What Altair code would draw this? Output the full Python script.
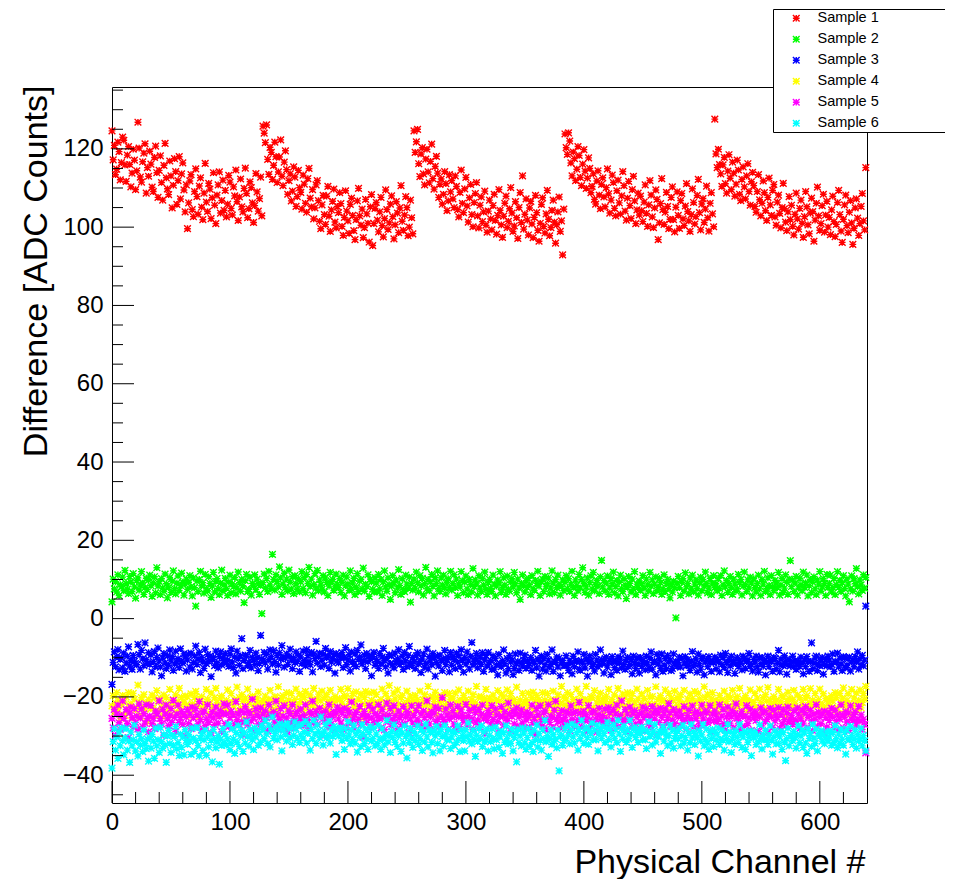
import altair as alt
import pandas as pd

SAMPLES = ["Sample 1", "Sample 2", "Sample 3", "Sample 4", "Sample 5", "Sample 6"]
COLORS = ["#ff0000", "#00ff00", "#0000ff", "#ffff00", "#ff00ff", "#00ffff"]

X_MAJOR = [0, 100, 200, 300, 400, 500, 600]
X_MINOR = [20, 40, 60, 80, 120, 140, 160, 180, 220, 240, 260, 280, 320, 340, 360, 380,
           420, 440, 460, 480, 520, 540, 560, 580, 620]
Y_MAJOR = [-40, -20, 0, 20, 40, 60, 80, 100, 120]
Y_MINOR = [-45, -35, -30, -25, -15, -10, -5, 5, 10, 15, 25, 30, 35, 45, 50, 55, 65, 70, 75,
           85, 90, 95, 105, 110, 115, 125, 130, 135]

SAMPLE1 = [
    124.6,117.2,120.9,113.4,114.8,121.7,119.3,112.1,116.5,123.0,122.2,115.9,111.7,118.4,120.6,116.0,110.3,113.8,119.9,117.1,109.6,114.4,126.8,120.2,112.8,111.5,116.7,118.9,121.3,108.7,115.2,113.0,
    119.4,116.1,110.2,109.1,117.8,120.7,113.9,107.6,114.5,118.2,111.4,106.9,115.8,121.4,112.6,109.8,108.3,116.9,113.1,104.9,110.7,117.5,114.2,105.8,111.9,118.0,107.2,113.6,116.4,109.5,103.9,110.8,
    99.6,106.2,111.8,113.4,104.5,102.7,109.1,114.9,107.8,103.3,110.5,112.6,105.1,101.9,108.7,116.3,106.4,104.0,111.2,109.7,102.2,107.5,113.9,105.6,100.9,108.2,110.8,114.1,103.6,106.8,112.0,104.3,
    109.4,102.6,105.9,113.2,111.5,104.8,103.1,110.3,108.0,114.6,106.5,101.7,107.7,112.3,105.2,103.9,109.9,115.1,108.6,102.4,104.7,111.6,110.1,106.2,101.2,105.5,113.7,109.0,104.1,107.3,112.8,102.9,
    125.8,124.0,121.6,126.1,117.3,113.5,120.4,119.1,112.2,115.8,121.7,118.0,111.4,114.1,117.9,122.3,113.0,110.6,116.6,119.5,114.7,108.4,111.9,113.6,106.7,109.2,115.4,112.8,105.3,107.8,114.5,110.1,
    108.9,104.6,113.3,111.0,106.1,103.8,112.4,115.0,107.4,105.2,109.6,102.1,104.9,110.8,111.9,106.8,101.5,99.6,105.7,108.1,103.2,100.7,107.9,110.4,102.8,98.9,104.4,106.6,109.7,101.3,99.8,105.3,
    103.7,108.8,106.0,100.2,97.9,102.5,109.3,104.1,101.6,98.4,105.8,107.4,103.0,99.1,96.8,101.9,106.7,109.9,102.9,100.5,104.6,97.3,99.9,107.1,103.4,101.0,96.2,105.2,108.3,95.3,100.9,104.8,
    106.3,101.8,98.8,103.9,107.6,100.4,97.5,102.2,109.5,104.5,99.4,101.1,105.9,108.0,102.7,97.0,100.6,106.5,103.6,98.6,104.9,110.6,101.5,99.2,103.1,107.8,105.0,97.8,100.0,106.9,102.4,98.3,
    124.6,119.1,121.8,125.0,116.2,112.9,118.7,120.3,113.6,110.8,117.4,119.9,114.1,111.3,116.8,121.2,112.4,109.7,115.5,118.1,113.8,107.6,110.9,112.3,105.9,108.4,114.2,111.1,104.2,106.7,113.4,109.0,
    111.9,107.2,105.0,113.1,110.4,104.5,102.6,108.9,114.6,106.1,103.7,109.8,112.7,105.4,101.3,107.5,110.9,103.2,100.1,106.3,108.6,111.4,102.9,99.8,105.6,107.7,101.4,103.9,109.2,100.5,98.7,104.1,
    106.9,102.1,99.3,105.5,108.4,101.7,98.2,103.0,109.6,104.3,100.6,97.4,102.8,106.1,107.9,99.9,101.5,104.7,110.1,103.6,98.9,100.3,106.5,102.4,97.1,105.0,108.8,101.2,113.1,99.5,103.3,107.2,
    101.8,98.0,104.9,106.6,100.8,97.3,102.5,108.1,103.7,99.2,96.4,101.0,105.8,107.5,100.2,98.5,103.4,109.4,102.0,97.8,99.9,104.3,106.9,101.3,95.9,100.6,103.9,107.7,98.9,101.6,92.9,104.6,
    123.8,120.3,118.6,124.1,122.0,116.4,113.1,119.2,117.5,111.9,114.8,120.6,118.3,112.7,110.6,116.1,119.8,114.3,109.9,112.5,117.7,115.0,108.8,110.4,113.6,107.1,105.9,111.8,114.4,108.2,104.7,110.9,
    112.6,107.7,105.2,110.1,114.9,108.5,103.6,106.9,113.3,111.4,104.8,102.9,109.3,112.0,106.2,103.3,108.0,114.2,110.6,104.1,101.8,107.4,111.7,105.5,102.2,109.6,113.0,106.7,100.9,104.4,108.7,103.1,
    107.9,104.2,101.4,106.4,110.8,103.5,100.2,105.7,111.9,108.2,102.6,99.9,104.9,109.5,107.1,96.8,101.1,106.0,112.4,104.5,100.7,103.8,108.9,105.3,99.6,102.0,107.6,110.3,101.9,98.8,105.1,109.0,
    103.0,99.7,106.8,108.6,102.1,100.4,105.4,111.1,104.0,101.6,98.9,103.2,109.8,106.3,100.8,102.7,108.1,112.2,103.7,99.3,105.9,107.3,101.2,104.6,110.5,102.4,99.0,106.1,108.8,103.4,100.1,127.6,
    118.7,115.2,119.9,116.0,113.6,110.4,115.9,117.8,111.1,108.7,114.3,118.5,112.5,109.6,116.6,113.8,107.9,111.0,117.1,114.6,108.4,106.8,112.2,115.4,110.3,107.2,113.1,116.2,109.1,105.6,111.6,114.0,
    110.6,105.3,103.8,109.1,113.4,107.0,102.9,106.1,111.8,108.8,104.2,101.7,107.6,112.5,105.7,103.0,109.4,110.9,102.6,100.5,106.4,108.2,103.5,99.8,105.0,111.2,104.7,101.3,99.1,103.9,107.8,101.9,
    105.6,100.2,98.0,103.3,108.7,102.1,99.5,104.8,106.9,101.0,97.4,102.7,109.1,105.2,100.6,98.3,103.6,107.4,104.0,96.4,101.8,106.1,110.2,102.9,99.2,100.9,105.5,108.4,98.7,103.1,106.6,100.0,
    102.5,98.1,104.4,107.9,101.4,97.6,100.7,106.3,109.4,103.2,99.0,96.1,102.0,105.7,108.2,100.4,98.6,103.8,106.8,101.1,95.6,99.7,104.9,107.2,102.3,97.9,100.9,105.3,108.6,101.6,99.3,115.2,
]

SAMPLE2 = [
    4.3,10.1,7.6,9.4,6.8,11.2,5.9,8.7,8.2,10.6,7.1,12.3,9.0,7.5,6.4,10.8,9.3,6.9,11.5,8.1,5.2,9.7,10.4,7.3,8.6,12.0,9.1,6.2,7.9,10.3,7.4,9.8,
    11.1,8.4,5.7,9.2,10.7,6.6,13.0,8.3,9.5,6.1,10.2,7.8,7.0,11.4,8.9,5.3,8.0,10.5,6.7,9.6,12.2,7.7,6.3,9.1,10.9,7.2,8.5,11.6,9.3,6.0,8.8,10.1,
    7.5,9.3,11.0,8.1,5.8,10.4,7.9,3.2,9.6,6.9,10.0,12.1,8.4,9.2,6.5,11.3,7.6,7.1,10.7,9.0,5.4,8.3,11.8,6.8,9.5,10.2,7.7,6.1,9.1,12.4,7.0,8.6,
    10.3,7.7,5.9,9.4,11.1,6.6,8.9,8.2,10.5,6.3,7.8,11.9,9.2,7.0,10.0,8.4,4.1,9.7,11.3,6.9,7.5,10.6,6.0,9.0,8.3,11.2,7.4,10.1,8.8,6.2,8.5,1.3,
    9.2,11.4,7.8,10.3,6.9,12.1,8.6,7.7,16.4,10.0,7.3,11.2,9.5,8.1,13.2,10.4,6.2,8.8,11.6,7.9,10.1,7.0,12.4,9.3,7.6,10.7,6.4,11.0,8.9,7.5,10.2,6.8,
    9.4,12.0,7.7,10.5,6.6,11.3,9.0,13.1,8.2,10.1,6.0,8.7,11.5,7.8,12.3,7.1,9.9,8.6,7.5,11.0,6.8,10.4,9.2,5.9,8.3,11.8,9.5,10.0,7.2,8.1,11.4,8.8,
    7.9,10.2,6.7,9.3,11.1,5.8,8.4,10.6,8.9,7.2,12.2,7.6,9.1,10.3,6.1,8.0,11.5,6.9,9.6,10.0,7.7,12.9,7.0,8.8,8.2,11.2,5.7,10.1,9.4,7.5,6.8,10.5,
    9.1,6.8,11.3,7.6,10.0,5.9,9.4,12.2,8.1,7.0,10.4,8.7,4.9,8.3,11.0,9.2,6.6,9.9,7.8,12.5,8.5,6.2,10.2,7.4,6.9,11.1,8.8,7.7,10.6,4.2,9.0,7.3,
    10.1,7.8,11.9,9.2,6.8,11.0,8.4,10.3,6.0,8.9,13.1,7.6,10.0,7.1,9.4,11.3,8.2,5.8,10.5,9.0,12.2,7.7,6.9,10.4,8.6,11.1,7.9,6.3,9.3,10.2,8.0,12.1,
    7.3,9.0,11.2,7.9,10.1,5.9,8.8,8.1,12.0,9.7,6.6,9.3,10.9,7.6,6.1,10.0,8.7,6.8,12.8,8.2,9.9,9.1,6.0,11.0,7.8,6.9,10.3,8.6,11.9,7.5,6.2,9.2,
    10.0,7.7,6.9,11.1,8.8,5.8,8.3,9.9,9.1,12.0,6.7,7.9,10.4,8.6,6.2,10.9,7.5,7.0,9.3,10.2,8.1,11.8,8.9,6.6,10.1,7.8,4.9,9.0,11.2,8.4,6.8,9.7,
    8.0,10.3,8.7,6.1,11.0,7.6,7.2,9.8,9.0,12.1,8.3,5.9,9.4,10.1,6.9,10.8,8.1,8.9,10.4,6.3,7.8,12.2,9.1,6.6,10.0,7.9,11.1,8.6,6.0,8.2,9.9,7.1,
    9.3,11.0,7.7,10.2,6.9,8.8,12.1,8.0,5.9,9.9,8.5,7.1,11.3,7.8,10.0,13.0,8.9,6.7,8.1,10.4,6.0,9.2,10.9,7.6,11.8,7.0,8.7,9.8,8.3,6.4,10.7,14.9,
    8.1,9.7,7.0,9.1,10.9,6.2,7.8,10.3,8.9,11.9,6.6,8.2,9.8,5.8,9.3,11.1,7.7,6.9,10.2,8.6,5.1,8.0,10.8,9.0,6.8,10.1,7.5,12.0,6.1,8.8,7.9,9.6,
    7.2,8.9,11.0,7.8,5.9,10.1,8.6,7.0,11.8,8.3,9.9,6.4,8.8,10.7,7.1,8.0,10.3,9.2,6.2,7.6,11.2,6.9,9.0,10.0,7.7,5.3,8.7,6.8,9.6,7.9,0.2,9.1,
    10.8,7.9,5.9,9.3,10.2,7.0,11.7,8.1,9.0,6.3,10.4,7.6,11.1,6.8,8.8,9.9,7.7,6.0,9.2,10.6,7.1,10.0,8.3,11.9,8.9,6.6,7.8,10.3,6.1,9.1,11.0,8.0,
    8.9,7.1,10.3,7.7,11.0,5.9,8.6,12.2,8.1,9.8,6.7,9.0,10.8,7.9,6.2,10.1,8.8,7.0,7.6,11.3,9.2,10.0,6.0,8.3,11.9,8.7,6.9,9.9,7.8,10.6,9.1,5.8,
    10.2,7.9,6.8,9.0,11.1,7.6,5.9,10.0,8.8,12.1,6.9,7.7,10.4,8.5,6.1,11.0,8.2,7.1,9.8,9.1,7.9,11.8,6.0,8.6,10.3,6.7,7.8,11.2,9.3,6.2,10.1,14.8,
    8.2,9.9,6.9,9.1,10.8,6.0,7.8,10.3,8.7,7.1,11.9,8.0,9.2,11.1,5.8,8.4,10.0,6.7,9.3,10.7,7.6,6.1,9.9,8.8,12.0,7.0,8.1,10.2,9.0,5.9,11.3,7.9,
    9.0,11.1,6.8,7.9,10.3,6.1,8.7,12.0,8.0,9.8,6.9,9.2,11.0,7.7,5.8,10.1,8.8,4.3,7.6,10.9,7.0,10.2,8.9,12.8,8.1,6.3,9.9,8.6,7.2,11.2,7.8,10.5,
]

SAMPLE3 = [
    -16.8,-11.2,-8.5,-12.3,-9.7,-7.9,-13.1,-10.4,-10.0,-12.6,-8.8,-13.5,-11.3,-9.6,-7.2,-12.1,-10.7,-13.0,-9.4,-10.9,-11.5,-11.8,-6.6,-9.2,-12.9,-8.1,-10.3,-12.0,-6.2,-10.5,-11.4,-8.7,
    -11.7,-9.3,-13.6,-11.0,-8.4,-12.2,-9.9,-7.5,-10.8,-12.4,-14.6,-10.1,-8.9,-11.3,-12.8,-9.5,-11.9,-8.0,-10.6,-9.7,-13.2,-11.6,-8.3,-11.1,-10.2,-12.5,-7.7,-10.9,-11.4,-9.0,-9.8,-13.4,
    -10.6,-9.1,-12.4,-8.8,-12.9,-11.2,-9.5,-7.0,-11.7,-10.3,-8.6,-13.8,-10.0,-11.1,-12.7,-7.8,-11.5,-9.2,-10.9,-9.6,-14.8,-10.4,-9.9,-12.0,-8.3,-11.3,-12.6,-9.7,-8.5,-11.8,-10.1,-10.7,
    -8.9,-11.4,-10.6,-12.2,-9.0,-7.7,-11.1,-12.5,-9.8,-13.9,-8.3,-10.2,-11.9,-9.5,-5.1,-12.8,-10.7,-9.3,-9.6,-12.0,-11.2,-8.1,-12.6,-9.9,-10.4,-11.7,-8.8,-10.0,-13.3,-11.5,-4.3,-10.2,
    -10.8,-8.6,-11.3,-9.1,-12.9,-10.5,-8.0,-9.7,-11.6,-8.2,-11.0,-13.7,-9.4,-11.9,-8.7,-10.3,-6.9,-9.9,-12.4,-10.1,-9.0,-11.7,-9.6,-7.8,-10.6,-12.8,-10.0,-11.2,-8.5,-10.9,-9.3,-13.5,
    -9.8,-11.5,-8.3,-10.7,-12.1,-7.9,-9.4,-10.9,-11.8,-8.6,-13.6,-9.0,-10.2,-5.8,-11.4,-9.7,-8.8,-12.3,-10.6,-9.1,-11.9,-7.6,-10.0,-9.5,-12.7,-8.4,-11.1,-10.3,-9.2,-13.9,-8.9,-10.8,
    -11.3,-9.6,-10.1,-8.7,-12.5,-9.9,-7.4,-11.8,-10.6,-9.2,-13.4,-8.5,-10.9,-11.7,-9.0,-12.2,-8.1,-10.4,-9.8,-6.7,-11.6,-10.7,-9.3,-12.8,-8.9,-11.0,-9.5,-10.2,-14.6,-9.7,-8.6,-11.9,
    -10.4,-11.0,-12.7,-8.9,-11.5,-9.8,-7.6,-10.7,-12.3,-10.1,-13.9,-9.2,-11.4,-9.5,-11.8,-12.6,-8.8,-10.9,-10.3,-7.9,-11.7,-11.1,-9.6,-13.0,-8.6,-10.8,-12.2,-9.4,-7.1,-11.3,-12.0,-9.9,
    -11.1,-12.8,-9.5,-8.7,-11.6,-10.9,-13.8,-10.3,-9.0,-12.4,-11.4,-7.8,-12.9,-9.7,-10.6,-11.8,-8.9,-10.0,-14.7,-11.2,-9.6,-12.1,-9.3,-10.8,-13.3,-10.2,-8.1,-11.7,-10.5,-9.9,-13.6,-8.6,
    -11.9,-9.7,-10.4,-12.8,-8.8,-11.1,-9.5,-12.3,-7.9,-10.7,-13.7,-9.9,-11.6,-8.5,-10.8,-12.9,-9.6,-6.1,-11.8,-10.9,-10.2,-8.9,-12.6,-11.0,-9.8,-11.7,-8.7,-13.5,-10.6,-9.4,-12.1,-8.6,
    -11.3,-10.7,-13.0,-9.5,-12.9,-10.2,-11.8,-14.4,-9.1,-11.6,-12.3,-10.7,-8.0,-11.5,-13.9,-10.2,-12.8,-9.4,-11.1,-10.6,-14.3,-12.7,-9.0,-11.5,-10.9,-13.2,-8.8,-11.4,-12.1,-10.6,-9.3,-12.7,
    -10.7,-12.0,-11.5,-9.9,-13.2,-10.8,-11.4,-8.1,-12.6,-10.3,-14.7,-11.0,-9.5,-12.9,-10.2,-11.8,-13.4,-9.1,-10.6,-12.3,-11.7,-8.0,-13.5,-10.9,-11.2,-9.8,-12.4,-10.1,-14.6,-11.3,-10.7,-12.0,
    -12.0,-9.5,-11.9,-13.2,-10.8,-11.4,-14.1,-9.6,-12.3,-10.7,-11.0,-8.5,-12.9,-13.2,-10.8,-11.4,-9.1,-12.6,-10.3,-14.7,-11.0,-9.5,-10.9,-12.2,-11.8,-13.4,-9.1,-10.6,-12.3,-11.7,-8.0,-10.5,
    -11.5,-13.9,-10.2,-9.8,-12.4,-11.1,-10.6,-14.3,-9.7,-11.0,-12.5,-10.9,-13.2,-9.8,-11.4,-10.1,-12.6,-8.3,-11.7,-13.0,-10.5,-9.9,-12.2,-11.8,-10.4,-14.1,-9.6,-11.3,-12.7,-10.0,-11.5,-13.9,
    -9.9,-12.2,-10.8,-11.4,-13.1,-9.6,-11.3,-12.7,-10.0,-8.5,-12.9,-11.2,-10.8,-14.4,-9.1,-11.6,-10.3,-12.7,-9.0,-13.5,-11.9,-10.2,-12.8,-9.4,-11.1,-10.6,-13.3,-12.7,-9.0,-11.5,-10.9,-12.2,
    -11.2,-9.8,-12.4,-10.1,-14.6,-11.3,-9.7,-12.0,-10.5,-11.9,-13.2,-10.8,-8.4,-12.1,-11.6,-10.3,-13.7,-9.0,-11.5,-12.9,-10.2,-9.8,-14.4,-11.1,-10.6,-12.3,-9.7,-11.0,-13.5,-10.9,-11.2,-9.8,
    -12.8,-10.4,-11.1,-13.6,-9.3,-11.7,-10.0,-12.5,-8.9,-11.2,-13.8,-10.4,-12.1,-9.6,-11.3,-10.7,-14.0,-11.5,-9.9,-12.2,-10.8,-11.4,-13.1,-9.6,-10.3,-12.7,-11.0,-10.5,-8.9,-12.2,-11.8,-13.4,
    -10.4,-11.1,-9.6,-12.3,-13.7,-10.0,-11.5,-9.9,-12.2,-10.8,-14.4,-11.1,-9.6,-12.3,-10.7,-11.0,-13.5,-9.9,-10.2,-12.8,-11.4,-8.1,-13.6,-10.3,-11.7,-12.0,-9.5,-10.9,-14.2,-11.8,-10.4,-12.1,
    -11.1,-9.6,-12.3,-10.7,-13.0,-11.5,-10.9,-12.2,-9.8,-11.4,-14.1,-10.6,-12.3,-9.7,-11.0,-13.5,-10.9,-6.2,-12.8,-11.4,-10.1,-9.6,-13.3,-11.7,-12.0,-10.5,-9.9,-14.2,-11.8,-10.4,-12.1,-9.6,
    -10.6,-12.3,-11.7,-9.0,-13.5,-10.9,-11.2,-8.8,-12.4,-10.1,-11.6,-13.3,-9.7,-10.0,-12.5,-11.9,-10.2,-9.8,-13.4,-11.1,-10.6,-12.3,-9.7,-11.0,-8.5,-12.9,-10.2,-11.8,-9.4,-12.1,-10.6,3.2,
]

SAMPLE4 = [
    -22.3,-19.7,-24.0,-21.5,-18.9,-23.2,-20.8,-25.4,-22.1,-19.6,-21.3,-24.7,-20.0,-23.5,-18.9,-22.2,-21.8,-25.4,-19.1,-20.6,-23.3,-22.7,-17.0,-21.5,-24.9,-20.2,-22.8,-19.4,-23.1,-21.6,-26.3,-20.7,
    -21.7,-23.0,-19.5,-22.9,-20.2,-24.8,-18.4,-21.1,-23.6,-20.3,-22.7,-25.0,-19.5,-21.9,-20.2,-23.8,-22.4,-18.1,-24.6,-21.3,-20.7,-22.0,-19.5,-23.9,-21.2,-17.8,-22.4,-20.1,-24.6,-21.3,-19.7,-22.0,
    -20.0,-22.5,-24.9,-19.2,-21.8,-23.4,-20.1,-18.6,-22.3,-21.7,-25.0,-20.5,-19.9,-23.2,-21.8,-22.4,-18.1,-20.6,-24.3,-21.7,-19.0,-22.5,-23.9,-20.2,-17.8,-21.4,-22.1,-24.6,-20.3,-19.7,-23.0,-21.5,
    -22.5,-20.9,-18.2,-23.8,-21.4,-19.1,-24.6,-22.3,-20.7,-21.0,-17.5,-23.9,-20.2,-22.8,-19.4,-21.1,-25.6,-20.3,-22.7,-18.0,-21.5,-23.9,-20.2,-19.8,-22.4,-24.1,-21.6,-20.3,-18.7,-22.0,-21.5,-23.9,
    -20.9,-22.2,-19.8,-21.4,-24.1,-20.6,-18.3,-22.7,-21.0,-23.5,-19.9,-20.2,-22.8,-17.4,-21.1,-24.6,-20.3,-19.7,-22.0,-21.5,-18.9,-23.2,-20.8,-22.4,-19.1,-21.6,-24.3,-20.7,-18.0,-22.5,-21.9,-19.2,
    -21.2,-19.8,-23.4,-20.1,-18.6,-22.3,-21.7,-24.0,-19.5,-20.9,-22.2,-17.8,-21.4,-23.1,-20.6,-19.3,-22.7,-21.0,-18.5,-24.9,-20.2,-22.8,-19.4,-21.1,-23.6,-18.3,-20.7,-22.0,-21.5,-19.9,-24.2,-20.8,
    -22.8,-20.4,-18.1,-21.6,-23.3,-19.7,-20.0,-22.5,-17.9,-21.2,-24.8,-20.4,-19.1,-22.6,-21.3,-18.7,-23.0,-20.5,-22.9,-19.2,-21.8,-25.4,-20.1,-18.6,-22.3,-21.7,-19.0,-23.5,-20.9,-22.2,-18.8,-21.4,
    -19.4,-22.1,-21.6,-23.3,-20.7,-18.0,-22.5,-24.9,-19.2,-21.8,-20.4,-17.1,-22.6,-21.3,-23.7,-19.0,-20.5,-22.9,-18.2,-21.8,-24.4,-20.1,-19.6,-22.3,-21.7,-23.0,-18.5,-20.9,-22.2,-19.8,-21.4,-24.1,
    -21.1,-19.6,-23.3,-20.7,-22.0,-18.5,-21.9,-24.2,-20.8,-19.4,-22.1,-21.6,-17.3,-23.7,-20.0,-22.5,-19.9,-21.2,-18.8,-24.4,-20.1,-22.6,-21.3,-19.7,-23.0,-20.5,-18.9,-22.2,-21.8,-24.4,-19.1,-20.6,
    -22.6,-20.3,-24.7,-19.0,-21.5,-23.9,-18.2,-20.8,-22.4,-21.1,-19.6,-25.3,-20.7,-22.0,-18.5,-21.9,-23.2,-20.8,-19.4,-22.1,-21.6,-17.3,-23.7,-20.0,-22.5,-19.9,-21.2,-24.8,-20.4,-18.1,-22.6,-21.3,
    -20.3,-23.7,-21.0,-19.5,-22.9,-24.2,-20.8,-18.4,-21.1,-23.6,-19.3,-22.7,-20.0,-21.5,-24.9,-18.2,-22.8,-20.4,-19.1,-23.6,-21.3,-20.7,-22.0,-17.5,-21.9,-24.2,-20.8,-22.4,-19.1,-21.6,-23.3,-20.7,
    -21.7,-19.0,-22.5,-24.9,-20.2,-18.8,-23.4,-21.1,-19.6,-22.3,-20.7,-25.0,-21.5,-18.9,-22.2,-20.8,-23.4,-19.1,-21.6,-22.3,-20.7,-24.0,-18.5,-21.9,-23.2,-20.8,-19.4,-22.1,-21.6,-17.3,-23.7,-20.0,
    -22.0,-20.5,-18.9,-23.2,-21.8,-19.4,-24.1,-20.6,-22.3,-21.7,-18.0,-23.5,-20.9,-19.2,-22.8,-24.4,-21.1,-20.6,-17.3,-22.7,-21.0,-23.5,-19.9,-20.2,-22.8,-18.4,-24.1,-21.6,-20.3,-22.7,-19.0,-21.5,
    -20.5,-23.9,-21.2,-19.8,-22.4,-18.1,-21.6,-24.3,-20.7,-22.0,-19.5,-21.9,-23.2,-17.8,-20.4,-22.1,-21.6,-19.3,-24.7,-20.0,-22.5,-18.9,-21.2,-23.8,-20.4,-19.1,-22.6,-21.3,-24.7,-18.0,-20.5,-22.9,
    -21.9,-19.2,-23.8,-20.4,-22.1,-24.6,-18.3,-21.7,-20.0,-23.5,-19.9,-22.2,-21.8,-17.4,-24.1,-20.6,-22.3,-19.7,-21.0,-23.5,-20.9,-18.2,-22.8,-21.4,-19.1,-24.6,-20.3,-22.7,-21.0,-18.5,-23.9,-20.2,
    -22.2,-20.8,-19.4,-23.1,-21.6,-18.3,-22.7,-24.0,-20.5,-21.9,-19.2,-23.8,-20.4,-22.1,-18.6,-21.3,-24.7,-19.0,-20.5,-22.9,-21.2,-23.8,-17.4,-20.1,-22.6,-19.3,-21.7,-24.0,-20.5,-18.9,-22.2,-21.8,
    -20.8,-22.4,-24.1,-19.6,-21.3,-20.7,-23.0,-18.5,-22.9,-21.2,-19.8,-24.4,-20.1,-22.6,-18.3,-21.7,-23.0,-20.5,-19.9,-22.2,-17.8,-21.4,-24.1,-20.6,-22.3,-19.7,-21.0,-23.5,-20.9,-18.2,-22.8,-21.4,
    -21.4,-19.1,-22.6,-20.3,-24.7,-18.0,-21.5,-23.9,-20.2,-22.8,-19.4,-21.1,-17.6,-23.3,-20.7,-22.0,-24.5,-19.9,-21.2,-20.8,-22.4,-18.1,-23.6,-21.3,-19.7,-20.0,-22.5,-24.9,-21.2,-18.8,-20.4,-23.1,
    -22.1,-20.6,-18.3,-21.7,-23.0,-19.5,-22.9,-20.2,-24.8,-21.4,-18.1,-22.6,-20.3,-19.7,-23.0,-21.5,-17.9,-22.2,-20.8,-24.4,-19.1,-21.6,-22.3,-20.7,-18.0,-23.5,-21.9,-19.2,-22.8,-20.4,-24.1,-21.6,
    -20.6,-22.3,-19.7,-21.0,-23.5,-18.9,-20.2,-22.8,-24.4,-19.1,-21.6,-20.3,-17.7,-22.0,-23.5,-20.9,-19.2,-21.8,-24.4,-18.1,-22.6,-20.3,-21.7,-19.0,-23.5,-20.9,-18.2,-22.8,-21.4,-19.1,-20.6,-17.3,
]

SAMPLE5 = [
    -25.5,-27.9,-23.2,-29.8,-24.4,-22.1,-26.6,-28.3,-24.7,-21.0,-25.5,-27.9,-23.2,-26.8,-30.4,-24.1,-22.6,-25.3,-27.7,-23.0,-26.5,-24.9,-28.2,-21.8,-25.4,-23.1,-27.6,-24.3,-26.7,-22.0,-25.5,-28.9,
    -24.9,-22.2,-26.8,-25.4,-28.1,-23.6,-24.3,-27.7,-21.0,-25.5,-26.9,-23.2,-29.8,-24.4,-22.1,-25.6,-27.3,-24.7,-23.0,-26.5,-20.9,-25.2,-28.8,-24.4,-22.1,-26.6,-25.3,-23.7,-27.0,-24.5,-29.9,-25.2,
    -23.2,-26.8,-24.4,-28.1,-22.6,-25.3,-27.7,-23.0,-24.5,-26.9,-21.2,-25.8,-28.4,-24.1,-23.6,-27.3,-25.7,-22.0,-26.5,-24.9,-29.2,-23.8,-25.4,-27.1,-22.6,-24.3,-26.7,-25.0,-23.5,-28.9,-24.2,-21.8,
    -26.8,-24.4,-22.1,-27.6,-25.3,-23.7,-28.0,-24.5,-26.9,-21.2,-25.8,-24.4,-27.1,-23.6,-26.3,-29.7,-24.0,-22.5,-25.9,-27.2,-23.8,-24.4,-26.1,-20.6,-25.3,-28.7,-23.0,-24.5,-26.9,-25.2,-22.8,-27.4,
    -24.4,-26.1,-23.6,-25.3,-28.7,-22.0,-24.5,-27.9,-25.2,-23.8,-26.4,-21.1,-24.6,-28.3,-25.7,-23.0,-26.5,-24.9,-22.2,-27.8,-25.4,-29.1,-23.6,-24.3,-26.7,-22.0,-25.5,-27.9,-24.2,-23.8,-26.4,-25.1,
    -23.1,-25.6,-27.3,-24.7,-22.0,-26.5,-25.9,-28.2,-23.8,-24.4,-21.1,-26.6,-25.3,-23.7,-27.0,-24.5,-22.9,-25.2,-29.8,-24.4,-26.1,-23.6,-25.3,-27.7,-22.0,-24.5,-26.9,-25.2,-23.8,-28.4,-24.1,-22.6,
    -25.6,-23.3,-26.7,-24.0,-28.5,-22.9,-25.2,-27.8,-23.4,-24.1,-26.6,-21.3,-25.7,-28.0,-24.5,-23.9,-26.2,-25.8,-22.4,-27.1,-24.6,-30.3,-23.7,-25.0,-26.5,-24.9,-22.2,-27.8,-25.4,-23.1,-26.6,-24.3,
    -26.3,-24.7,-22.0,-25.5,-27.9,-23.2,-24.8,-28.4,-25.1,-21.6,-26.3,-24.7,-23.0,-27.5,-25.9,-22.2,-24.8,-26.4,-28.1,-23.6,-25.3,-24.7,-27.0,-22.5,-26.9,-25.2,-23.8,-24.4,-29.1,-25.6,-22.3,-26.7,
    -24.7,-27.0,-23.5,-25.9,-22.2,-26.8,-24.4,-28.1,-23.6,-25.3,-27.7,-21.0,-24.5,-26.9,-25.2,-23.8,-28.4,-24.1,-22.6,-26.3,-25.7,-23.0,-27.5,-24.9,-20.2,-25.8,-26.4,-23.1,-24.6,-28.3,-25.7,-22.0,
    -25.0,-23.5,-26.9,-28.2,-24.8,-22.4,-25.1,-27.6,-23.3,-24.7,-26.0,-25.5,-21.9,-27.2,-24.8,-23.4,-26.1,-25.6,-28.3,-22.7,-24.0,-26.5,-25.9,-23.2,-27.8,-24.4,-22.1,-25.6,-29.3,-24.7,-26.0,-23.5,
    -24.5,-26.9,-22.2,-25.8,-27.4,-23.1,-24.6,-26.3,-28.7,-25.0,-22.5,-24.9,-27.2,-23.8,-25.4,-26.1,-21.6,-24.3,-28.7,-25.0,-23.5,-26.9,-24.2,-22.8,-27.4,-25.1,-24.6,-23.3,-26.7,-28.0,-24.5,-25.9,
    -23.9,-25.2,-27.8,-24.4,-22.1,-26.6,-25.3,-29.7,-23.0,-24.5,-26.9,-22.2,-25.8,-27.4,-24.1,-23.6,-28.3,-25.7,-22.0,-26.5,-24.9,-25.2,-27.8,-23.4,-21.1,-25.6,-26.3,-24.7,-28.0,-23.5,-25.9,-27.2,
    -25.2,-23.8,-26.4,-24.1,-28.6,-22.3,-25.7,-24.0,-27.5,-23.9,-26.2,-25.8,-21.4,-24.1,-27.6,-25.3,-23.7,-26.0,-24.5,-28.9,-22.2,-25.8,-27.4,-24.1,-23.6,-26.3,-25.7,-29.0,-24.5,-22.9,-26.2,-25.8,
    -24.8,-26.4,-23.1,-25.6,-27.3,-22.7,-24.0,-28.5,-25.9,-23.2,-26.8,-24.4,-22.1,-27.6,-25.3,-24.7,-21.0,-26.5,-25.9,-23.2,-28.8,-24.4,-26.1,-22.6,-25.3,-27.7,-24.0,-23.5,-26.9,-25.2,-28.8,-24.4,
    -26.4,-24.1,-22.6,-25.3,-28.7,-23.0,-24.5,-26.9,-25.2,-27.8,-22.4,-24.1,-25.6,-23.3,-29.7,-24.0,-26.5,-22.9,-25.2,-27.8,-24.4,-23.1,-26.6,-25.3,-21.7,-24.0,-27.5,-25.9,-23.2,-26.8,-24.4,-28.1,
    -25.1,-23.6,-27.3,-24.7,-26.0,-22.5,-25.9,-28.2,-24.8,-23.4,-26.1,-25.6,-22.3,-27.7,-24.0,-25.5,-23.9,-28.2,-26.8,-24.4,-22.1,-25.6,-27.3,-23.7,-24.0,-26.5,-25.9,-22.2,-28.8,-24.4,-26.1,-23.6,
    -24.6,-26.3,-25.7,-22.0,-27.5,-24.9,-23.2,-26.8,-28.4,-25.1,-22.6,-24.3,-26.7,-25.0,-23.5,-27.9,-24.2,-21.8,-25.4,-26.1,-24.6,-28.3,-23.7,-25.0,-27.5,-24.9,-22.2,-26.8,-25.4,-23.1,-28.6,-24.3,
    -25.3,-23.7,-26.0,-24.5,-28.9,-25.2,-22.8,-27.4,-24.1,-23.6,-26.3,-25.7,-29.0,-24.5,-22.9,-25.2,-27.8,-23.4,-26.1,-24.6,-25.3,-22.7,-28.0,-24.5,-26.9,-23.2,-25.8,-27.4,-24.1,-22.6,-26.3,-25.7,
    -24.7,-27.0,-23.5,-25.9,-26.2,-22.8,-24.4,-28.1,-25.6,-23.3,-26.7,-24.0,-22.5,-27.9,-25.2,-24.8,-23.4,-26.1,-28.6,-24.3,-25.7,-22.0,-27.5,-23.9,-25.2,-26.8,-24.4,-29.1,-23.6,-25.3,-27.7,-24.0,
    -26.0,-24.5,-22.9,-25.2,-27.8,-23.4,-26.1,-24.6,-28.3,-25.7,-22.0,-24.5,-27.9,-25.2,-23.8,-26.4,-24.1,-28.6,-22.3,-25.7,-26.0,-24.5,-23.9,-27.2,-25.8,-22.4,-26.1,-24.6,-28.3,-25.7,-27.0,-34.3,
]

SAMPLE6 = [
    -38.2,-31.4,-28.1,-33.6,-30.3,-35.7,-29.0,-32.5,-27.9,-31.2,-34.8,-30.4,-28.1,-33.6,-31.3,-36.7,-29.0,-32.5,-30.9,-27.2,-33.8,-31.4,-35.1,-29.6,-32.3,-30.7,-34.0,-28.5,-31.9,-33.2,-30.8,-36.4,
    -30.4,-33.1,-29.6,-31.3,-35.7,-28.0,-32.5,-30.9,-34.2,-27.8,-31.4,-33.1,-29.6,-32.3,-36.7,-30.0,-28.5,-31.9,-34.2,-29.8,-32.4,-30.1,-27.6,-33.3,-31.7,-35.0,-29.5,-32.9,-30.2,-34.8,-28.4,-31.1,
    -32.1,-29.6,-31.3,-34.7,-28.0,-30.5,-33.9,-31.2,-27.8,-32.4,-35.1,-30.6,-29.3,-33.7,-31.0,-28.5,-34.9,-30.2,-32.8,-29.4,-31.1,-36.6,-28.3,-30.7,-33.0,-31.5,-29.9,-37.2,-30.8,-32.4,-28.1,-31.6,
    -29.6,-32.3,-30.7,-27.0,-33.5,-31.9,-28.2,-30.8,-34.4,-29.1,-31.6,-27.3,-32.7,-30.0,-28.5,-33.9,-29.2,-31.8,-26.4,-30.1,-32.6,-28.3,-29.7,-31.0,-33.5,-27.9,-30.2,-28.8,-32.4,-29.1,-31.6,-27.3,
    -28.3,-30.7,-26.0,-29.5,-31.9,-27.2,-32.8,-28.4,-25.1,-30.6,-29.3,-27.7,-31.0,-28.5,-26.9,-30.2,-33.8,-28.4,-27.1,-29.6,-31.3,-26.7,-28.0,-30.5,-27.9,-32.2,-29.8,-26.4,-28.1,-30.6,-27.3,-31.7,
    -29.7,-27.0,-30.5,-28.9,-26.2,-31.8,-29.4,-27.1,-33.6,-28.3,-30.7,-26.0,-29.5,-31.9,-27.2,-28.8,-30.4,-25.1,-29.6,-32.3,-28.7,-27.0,-30.5,-29.9,-26.2,-31.8,-28.4,-30.1,-27.6,-29.3,-34.7,-28.0,
    -30.0,-28.5,-27.9,-31.2,-29.8,-33.4,-28.1,-30.6,-26.3,-29.7,-32.0,-28.5,-30.9,-27.2,-31.8,-29.4,-34.1,-28.6,-30.3,-32.7,-27.0,-29.5,-31.9,-28.2,-30.8,-33.4,-29.1,-27.6,-31.3,-30.7,-28.0,-32.5,
    -29.5,-31.9,-27.2,-30.8,-33.4,-28.1,-30.6,-32.3,-29.7,-26.0,-31.5,-29.9,-34.2,-28.8,-30.4,-27.1,-31.6,-29.3,-32.7,-30.0,-28.5,-33.9,-29.2,-31.8,-27.4,-30.1,-35.6,-29.3,-31.7,-28.0,-30.5,-32.9,
    -28.9,-31.2,-29.8,-27.4,-32.1,-30.6,-28.3,-33.7,-29.0,-31.5,-26.9,-30.2,-32.8,-28.4,-29.1,-31.6,-34.3,-28.7,-30.0,-27.5,-31.9,-29.2,-33.8,-28.4,-30.1,-32.6,-27.3,-29.7,-31.0,-28.5,-30.9,-33.2,
    -30.2,-28.8,-32.4,-29.1,-31.6,-27.3,-30.7,-34.0,-28.5,-29.9,-31.2,-33.8,-28.4,-30.1,-26.6,-31.3,-29.7,-32.0,-28.5,-30.9,-35.2,-29.8,-31.4,-28.1,-30.6,-27.3,-32.7,-29.0,-31.5,-30.9,-28.2,-33.8,
    -29.8,-31.4,-28.1,-30.6,-33.3,-27.7,-31.0,-29.5,-32.9,-30.2,-28.8,-34.4,-29.1,-31.6,-27.3,-30.7,-32.0,-29.5,-31.9,-28.2,-33.8,-30.4,-29.1,-36.6,-28.3,-31.7,-30.0,-32.5,-27.9,-29.2,-31.8,-33.4,
    -30.4,-28.1,-32.6,-29.3,-31.7,-34.0,-28.5,-30.9,-27.2,-32.8,-29.4,-31.1,-33.6,-28.3,-30.7,-26.0,-31.5,-29.9,-35.2,-30.8,-28.4,-32.1,-29.6,-31.3,-30.7,-33.0,-28.5,-38.9,-30.2,-29.8,-32.4,-31.1,
    -28.1,-30.6,-27.3,-29.7,-32.0,-28.5,-26.9,-30.2,-31.8,-27.4,-29.1,-33.6,-28.3,-30.7,-26.0,-29.5,-31.9,-28.2,-27.8,-30.4,-32.1,-28.6,-29.3,-26.7,-31.0,-28.5,-30.9,-27.2,-33.8,-29.4,-28.1,-30.6,
    -27.6,-29.3,-31.7,-28.0,-26.5,-30.9,-28.2,-32.8,-29.4,-27.1,-30.6,-28.3,-31.7,-26.0,-29.5,-33.9,-28.2,-30.8,-27.4,-29.1,-31.6,-28.3,-30.7,-26.0,-29.5,-32.9,-28.2,-27.8,-30.4,-29.1,-31.6,-28.3,
    -29.3,-27.7,-31.0,-28.5,-30.9,-33.2,-28.8,-26.4,-30.1,-29.6,-32.3,-28.7,-27.0,-31.5,-29.9,-30.2,-28.8,-34.4,-29.1,-27.6,-31.3,-28.7,-30.0,-32.5,-29.9,-27.2,-31.8,-28.4,-33.1,-30.6,-29.3,-28.7,
    -30.7,-28.0,-32.5,-29.9,-27.2,-31.8,-30.4,-28.1,-33.6,-29.3,-31.7,-27.0,-30.5,-28.9,-32.2,-29.8,-30.4,-35.1,-28.6,-31.3,-29.7,-27.0,-32.5,-30.9,-28.2,-31.8,-33.4,-29.1,-30.6,-28.3,-32.7,-29.0,
    -31.0,-29.5,-27.9,-32.2,-30.8,-28.4,-31.1,-33.6,-29.3,-30.7,-27.0,-31.5,-28.9,-34.2,-30.8,-29.4,-32.1,-28.6,-30.3,-31.7,-27.0,-29.5,-32.9,-30.2,-28.8,-33.4,-29.1,-31.6,-30.3,-28.7,-35.0,-29.5,
    -30.5,-28.9,-32.2,-29.8,-31.4,-27.1,-30.6,-33.3,-29.7,-31.0,-28.5,-30.9,-32.2,-29.8,-27.4,-31.1,-34.6,-30.3,-28.7,-32.0,-29.5,-31.9,-30.2,-28.8,-33.4,-29.1,-31.6,-36.3,-30.7,-28.0,-32.5,-29.9,
    -29.9,-31.2,-28.8,-30.4,-33.1,-29.6,-27.3,-31.7,-30.0,-28.5,-32.9,-29.2,-31.8,-34.4,-28.1,-30.6,-29.3,-32.7,-27.0,-30.5,-31.9,-28.2,-33.8,-29.4,-30.1,-28.6,-31.3,-29.7,-32.0,-30.5,-28.9,-31.2,
    -30.2,-28.8,-32.4,-29.1,-31.6,-27.3,-30.7,-33.0,-29.5,-31.9,-28.2,-30.8,-32.4,-29.1,-34.6,-28.3,-30.7,-31.0,-27.5,-29.9,-32.2,-30.8,-28.4,-33.1,-29.6,-31.3,-30.7,-28.0,-32.5,-29.9,-31.2,-33.8,
]

SERIES = [SAMPLE1, SAMPLE2, SAMPLE3, SAMPLE4, SAMPLE5, SAMPLE6]

frames = []
for name, vals in zip(SAMPLES, SERIES):
    frames.append(pd.DataFrame({"channel": list(range(len(vals))), "value": vals, "sample": name}))
df = pd.concat(frames, ignore_index=True)

W, H = 755, 716
FONT = "Liberation Sans"
STAR = "M-1,0L1,0M0,-1L0,1M-1,-1L1,1M-1,1L1,-1"

xs = alt.Scale(domain=[0, 640], nice=False, zero=False)
ys = alt.Scale(domain=[-47.1, 135.8], nice=False, zero=False)

points = alt.Chart(df).mark_point(
    shape=STAR, filled=False, size=45, strokeWidth=1.4, opacity=1
).encode(
    x=alt.X("channel:Q", scale=xs,
            axis=alt.Axis(values=X_MAJOR, title="Physical Channel #", labelPadding=7,
                          labelFlush=False,
                          titleX=753, titleY=69, titleAlign="right", titleBaseline="alphabetic",
                          titleAngle=0)),
    y=alt.Y("value:Q", scale=ys,
            axis=alt.Axis(values=Y_MAJOR, title="Difference [ADC Counts]", labelPadding=9,
                          labelFlush=False,
                          titleX=-66, titleY=-2, titleAngle=270, titleAlign="right",
                          titleBaseline="alphabetic")),
    color=alt.Color("sample:N", scale=alt.Scale(domain=SAMPLES, range=COLORS),
                    legend=alt.Legend(
                        title=None, orient="none", legendX=661, legendY=-78,
                        direction="vertical", padding=2, rowPadding=6,
                        symbolType=STAR, symbolSize=45, symbolStrokeWidth=1.4,
                        symbolOffset=14, labelOffset=14,
                        labelFont=FONT, labelFontSize=14.5, labelColor="black",
                        strokeColor="black", fillColor="white",
                        labelExpr="datum.label + '\u2003\u2003\u2003\u2003\u2002\u200b'")),
)

ymaj = alt.Chart(pd.DataFrame({"value": Y_MAJOR})).mark_rule(color="black", strokeWidth=1).encode(
    y=alt.Y("value:Q", scale=ys), x=alt.value(0), x2=alt.value(22))
ymin = alt.Chart(pd.DataFrame({"value": Y_MINOR})).mark_rule(color="black", strokeWidth=1).encode(
    y=alt.Y("value:Q", scale=ys), x=alt.value(0), x2=alt.value(11))
xmaj = alt.Chart(pd.DataFrame({"channel": X_MAJOR})).mark_rule(color="black", strokeWidth=1).encode(
    x=alt.X("channel:Q", scale=xs), y=alt.value(H), y2=alt.value(H - 22))
xmin = alt.Chart(pd.DataFrame({"channel": X_MINOR})).mark_rule(color="black", strokeWidth=1).encode(
    x=alt.X("channel:Q", scale=xs), y=alt.value(H), y2=alt.value(H - 11))

chart = alt.layer(points, ymaj, ymin, xmaj, xmin).properties(
    width=W, height=H,
    padding={"left": 104, "top": 79, "right": 78, "bottom": 76},
    autosize=alt.AutoSizeParams(type="none"),
    background="white",
).configure_view(
    stroke="black", strokeWidth=1
).configure_axis(
    grid=False, ticks=False, tickSize=0, domain=False,
    labelFont=FONT, labelFontSize=24, labelColor="black",
    titleFont=FONT, titleFontSize=34, titleFontWeight="normal", titleColor="black",
)

chart.save("out.html", embed_options={"renderer": "svg", "actions": False})
